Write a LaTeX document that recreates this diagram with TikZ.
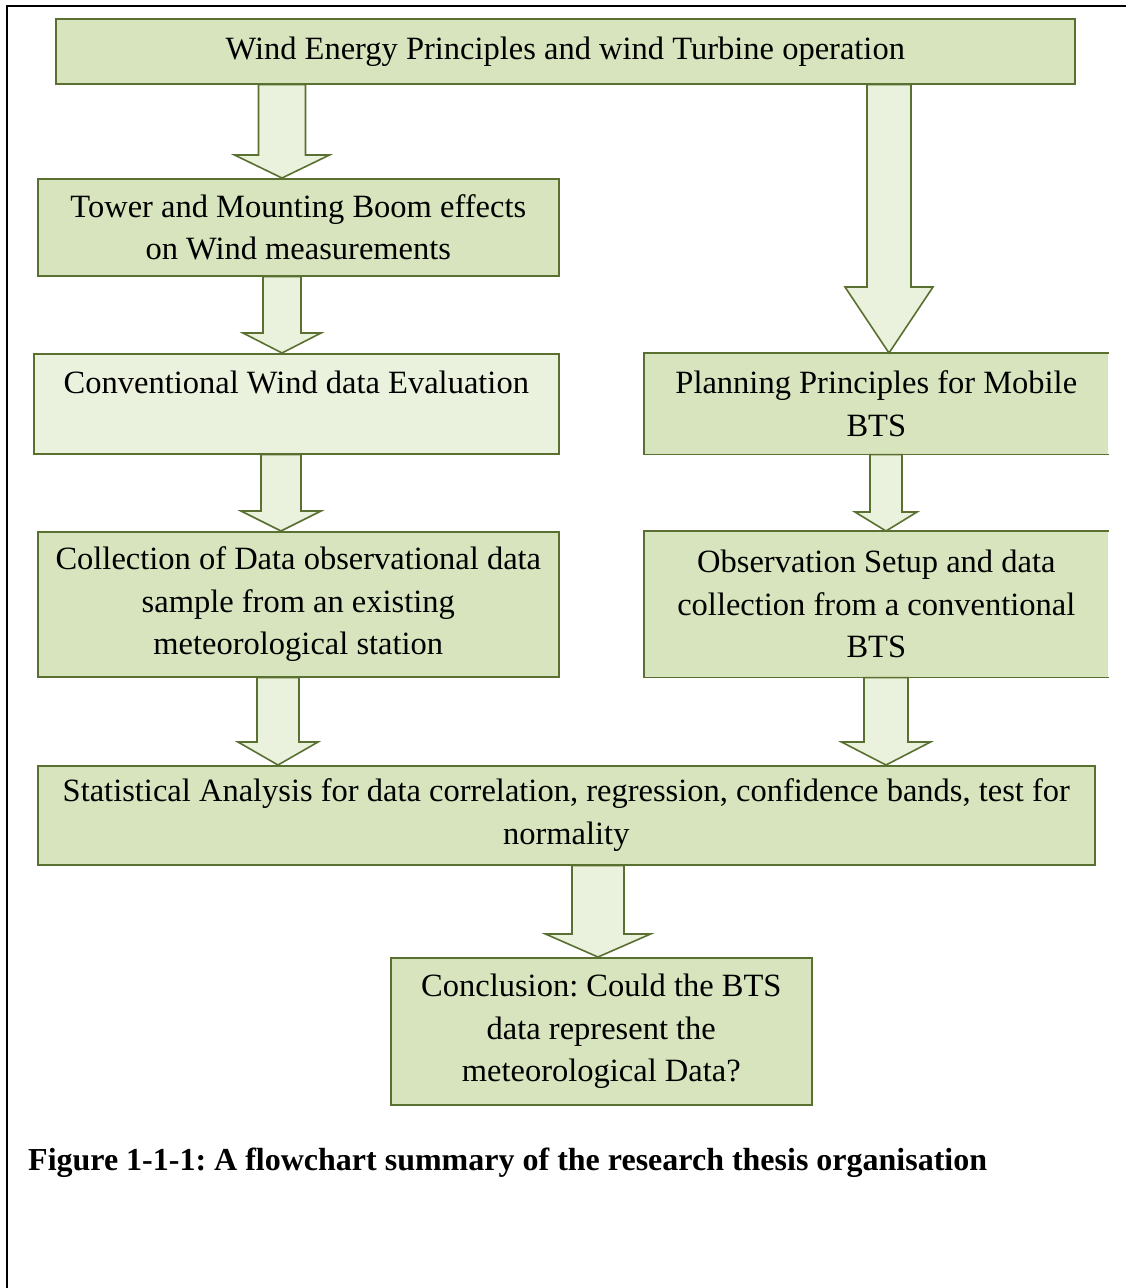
\documentclass[tikz,border=0pt]{standalone}
\usepackage{fontspec}
\setmainfont{Liberation Serif}
\usetikzlibrary{calc}
\frenchspacing
\definecolor{boxfill}{HTML}{D7E4BD}
\definecolor{lightfill}{HTML}{EAF1DD}
\definecolor{olive}{HTML}{5A7030}
\tikzset{
  box/.style={draw=olive, line width=1.6pt, fill=boxfill, inner sep=0pt, align=center, anchor=north west, font=\fontsize{32.5}{42.5}\selectfont},
  openbox/.style={box, draw=none},
  edge/.style={draw=olive, line width=1.6pt},
  barrow/.style={draw=olive, line width=1.6pt, fill=lightfill, line join=miter},
  frame/.style={draw=black, line width=2.5pt},
}
\newcommand\blockarrow[6]{%
  \draw[barrow] let \p1=(#1), \p2=(#2) in
   ({(#3-#4)*1pt},\y1) -- ({(#3-#4)*1pt},{\y2+#6*1pt}) -- ({(#3-#5)*1pt},{\y2+#6*1pt})
   -- ({#3*1pt},\y2) -- ({(#3+#5)*1pt},{\y2+#6*1pt}) -- ({(#3+#4)*1pt},{\y2+#6*1pt})
   -- ({(#3+#4)*1pt},\y1) -- cycle;}
\begin{document}
\begin{tikzpicture}[x=1pt,y=-1pt]
\useasboundingbox (0,0) rectangle (1126,1288);
\fill[white] (0,0) rectangle (1126,1288);
% frame
\coordinate (ftr) at (1126,6);
\coordinate (ftl) at (7,6);
\coordinate (fbl) at (7,1288);
\draw[frame] (ftr) -- (ftl) -- (fbl);
% boxes
\node[box, minimum width=1019pt, minimum height=65pt] (b1) at (55,18)
  {Wind Energy Principles and wind Turbine operation};
\node[box, minimum width=521pt, minimum height=97pt] (b2) at (37,178)
  {Tower and Mounting Boom effects\\on Wind measurements};
\node[box, fill=lightfill, minimum width=525pt, minimum height=100pt] (b3) at (33,353)
  {Conventional Wind data Evaluation\\\mbox{}};
\node[box, minimum width=521pt, minimum height=145pt] (b4) at (37,531)
  {Collection of Data observational data\\sample from an existing\\meteorological station};
\node[openbox, minimum width=463pt, minimum height=100pt] (b5) at (644,353)
  {Planning Principles for Mobile\\BTS};
\draw[edge] (b5.north east) -- (b5.north west) -- (b5.south west) -- (b5.south east);
\node[openbox, minimum width=463pt, minimum height=145pt] (b6) at (644,531)
  {Observation Setup and data\\collection from a conventional\\BTS};
\draw[edge] (b6.north east) -- (b6.north west) -- (b6.south west) -- (b6.south east);
\node[box, minimum width=1057pt, minimum height=99pt] (b7) at (37,765)
  {Statistical Analysis for data correlation, regression, confidence bands, test for\\normality};
\node[box, minimum width=421pt, minimum height=147pt] (b8) at (390,957)
  {Conclusion: Could the BTS\\data represent the\\meteorological Data?};
% block arrows
\blockarrow{b1.south}{b2.north}{282}{23.5}{47.5}{23}
\blockarrow{b1.south}{b5.north}{889}{22}{44}{66}
\blockarrow{b2.south}{b3.north}{282}{19}{39}{20}
\blockarrow{b3.south}{b4.north}{281}{20}{40}{20}
\blockarrow{b5.south}{b6.north}{886}{16}{31}{19}
\blockarrow{b4.south}{b7.north}{278}{21}{40}{23}
\blockarrow{b6.south}{b7.north}{886}{22}{44.5}{23}
\blockarrow{b7.south}{b8.north}{598}{26}{52.5}{23}
% caption
\node[anchor=base west, inner sep=0pt, font=\fontsize{32}{40}\selectfont\bfseries] (cap) at (28,1170)
  {Figure 1-1-1: A flowchart summary of the research thesis organisation};
\end{tikzpicture}
\end{document}
